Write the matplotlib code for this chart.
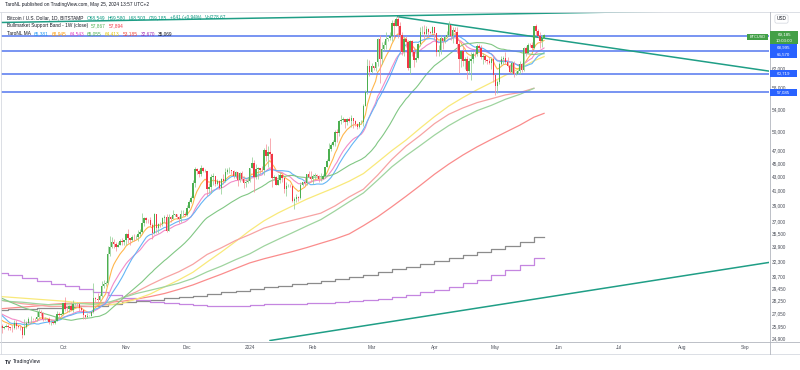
import numpy as np
import pandas as pd
import matplotlib
matplotlib.use("Agg")
import matplotlib.pyplot as plt
import matplotlib.dates as mdates
from matplotlib.lines import Line2D
from matplotlib.patches import Rectangle

plt.rcParams['font.family'] = ['Liberation Sans', 'DejaVu Sans']

W, H = 800, 370
FS = 3.4

# daily closes (thousand USD) before the visible range, used only to warm up the MAs
pre_start = '2023-07-13'
pre_close = [31.47, 30.32, 30.30, 30.25, 30.14, 29.86, 29.91, 29.80, 29.91, 29.80, 30.09, 29.18, 29.23,
             29.35, 29.21, 29.32, 29.36, 29.28, 29.23,
             29.70, 29.18, 29.19, 29.10, 29.05, 29.05, 29.18, 29.77, 29.57, 29.43, 29.40, 29.42, 29.30,
             29.42, 29.18, 28.70, 26.62, 26.05, 26.10, 26.19, 26.12, 26.04, 26.43, 26.16, 26.05, 26.01,
             26.09, 26.10, 27.73, 27.30, 25.94]

# BTCUSD daily candles, thousand USD, from 2023-09-01
start = '2023-09-01'
first_open = 25.94
close = [
    25.80, 25.87, 25.97, 25.82, 25.78, 25.75, 26.24, 25.90, 25.89, 25.84, 25.16, 25.84, 26.22, 26.53, 26.60,
    26.57, 26.53, 26.76, 27.21, 27.13, 26.57, 26.58, 26.58, 26.25, 26.30, 26.22, 26.37, 27.02, 26.91, 26.97,
    27.99, 27.50, 27.43, 27.79, 27.42, 27.95, 27.97, 27.94, 27.59, 27.39, 26.88, 26.76, 26.86, 26.86, 27.16,
    28.52, 28.42, 28.33, 28.72, 29.68, 29.92, 29.99, 33.09, 33.92, 34.50, 34.16, 33.91, 34.09, 34.54, 34.49, 34.65,
    35.44, 34.94, 34.73, 35.08, 35.04, 35.04, 35.42, 35.64, 36.70, 37.32, 37.14, 37.07, 36.49, 35.55, 37.88,
    36.16, 36.60, 36.59, 37.39, 37.48, 35.81, 37.43, 37.29, 37.72, 37.80, 37.48, 37.25, 37.83, 37.86, 37.72,
    38.69, 39.46, 39.98, 41.99, 44.09, 43.78, 43.29, 44.17, 43.72, 43.79, 41.24, 41.45, 42.89, 43.02, 41.94,
    42.26, 41.36, 42.65, 42.27, 43.66, 43.86, 43.99, 43.73, 43.01, 43.59, 42.51, 43.44, 42.58, 42.07, 42.14, 42.28,
    44.18, 44.95, 42.85, 44.15, 44.16, 43.97, 43.93, 46.97, 46.12, 46.63, 46.34, 42.78, 42.84, 41.73, 42.51,
    43.15, 42.74, 41.26, 41.62, 41.67, 41.55, 39.51, 39.85, 40.08, 39.93, 41.81, 42.12, 42.03, 43.30, 42.94, 42.57,
    43.08, 43.18, 43.00, 42.58, 42.66, 43.09, 44.33, 45.29, 47.13, 47.75, 48.30, 49.95, 49.70, 51.80, 51.92,
    52.14, 51.65, 52.13, 51.78, 52.28, 51.85, 51.31, 50.74, 51.57, 51.73, 54.52, 57.09, 62.50, 61.20,
    62.43, 62.03, 63.15, 68.34, 63.80, 66.11, 66.94, 68.30, 68.50, 69.02, 72.12, 71.48, 73.10, 71.40, 69.40,
    65.33, 68.39, 67.61, 61.95, 67.85, 65.50, 63.78, 64.06, 67.23, 69.98, 69.99, 69.47, 70.78, 69.89, 69.65, 71.30,
    69.65, 65.46, 65.96, 68.51, 67.85, 68.90, 69.36, 71.63, 69.14, 70.59, 70.06, 67.20, 63.82, 65.74, 63.42,
    63.81, 61.28, 63.51, 63.82, 64.95, 64.94, 66.84, 66.41, 64.29, 64.50, 63.77, 63.46, 63.10, 63.86, 60.61,
    58.25, 59.12, 62.89, 63.89, 64.03, 63.16, 62.33, 61.19, 63.07, 60.79, 60.81, 61.45, 62.89, 61.55, 66.27,
    65.23, 67.05, 66.92, 66.27, 71.45, 70.14, 69.16, 67.94, 68.54, 69.185]
high = [
    26.13, 25.98, 26.12, 26.09, 25.87, 26.02, 26.43, 26.43, 25.94, 26.03, 25.88, 26.55, 26.38, 26.78, 26.85,
    26.67, 26.63, 27.41, 27.49, 27.38, 27.16, 26.73, 26.64, 26.74, 26.43, 26.39, 26.82, 27.31, 27.23, 27.09,
    28.05, 28.58, 27.67, 27.83, 28.12, 28.29, 28.02, 28.10, 27.99, 27.73, 27.48, 26.94, 27.10, 26.96, 27.29,
    30.00, 28.61, 28.98, 28.92, 30.20, 30.34, 30.21, 34.00, 35.20, 35.08, 34.82, 34.46, 34.48, 34.74, 34.88, 34.71,
    35.56, 35.98, 34.94, 35.29, 35.38, 35.27, 35.89, 35.98, 37.96, 37.52, 37.42, 37.24, 37.42, 36.75, 37.97,
    37.92, 36.71, 36.85, 37.53, 37.75, 37.87, 37.86, 37.66, 38.43, 37.90, 37.84, 37.59, 38.39, 38.44, 38.17,
    38.98, 39.70, 40.20, 42.42, 44.42, 44.30, 44.04, 44.70, 44.37, 44.03, 43.79, 42.08, 43.41, 43.42, 43.08,
    42.68, 42.42, 42.74, 43.39, 44.25, 44.28, 44.37, 43.99, 43.95, 43.77, 43.63, 43.67, 43.79, 43.11, 42.60, 42.90,
    44.19, 45.90, 45.50, 44.77, 44.32, 44.22, 44.50, 47.25, 47.90, 47.65, 48.97, 46.50, 43.25, 43.06, 43.30,
    43.56, 43.19, 42.90, 42.17, 41.86, 41.90, 41.65, 40.10, 40.50, 40.27, 42.20, 42.23, 42.84, 43.31, 43.85, 43.74,
    43.30, 43.48, 43.38, 43.12, 43.50, 43.40, 44.37, 45.60, 48.20, 48.16, 48.59, 50.33, 50.37, 52.04, 52.82,
    52.57, 52.20, 52.38, 52.49, 52.98, 52.37, 52.04, 51.52, 51.68, 51.96, 54.92, 57.50, 63.91, 63.68,
    63.11, 62.45, 63.23, 68.65, 69.20, 67.66, 67.97, 69.95, 68.63, 69.96, 72.85, 72.97, 73.65, 73.78, 72.37,
    70.00, 68.84, 68.95, 68.10, 68.05, 68.19, 66.61, 65.95, 67.50, 71.14, 71.50, 71.67, 71.55, 70.90, 70.30, 71.35,
    71.30, 69.65, 66.90, 69.28, 68.70, 69.00, 70.30, 72.75, 71.75, 71.20, 71.27, 71.23, 67.92, 65.80, 66.88,
    64.38, 64.50, 64.10, 65.50, 65.40, 65.68, 67.20, 67.20, 67.07, 65.28, 64.80, 63.90, 64.30, 64.20, 64.70,
    60.80, 59.60, 63.30, 64.50, 64.65, 65.50, 64.35, 62.90, 63.40, 63.45, 61.45, 61.80, 63.45, 63.10, 66.45,
    66.70, 67.40, 67.40, 67.70, 71.50, 71.95, 70.60, 70.05, 69.20, 69.58]
low = [
    25.33, 25.71, 25.82, 25.61, 25.57, 25.39, 25.64, 25.65, 25.81, 25.60, 24.90, 25.13, 25.76, 26.13, 26.23,
    26.48, 26.38, 26.38, 26.67, 26.83, 26.37, 26.48, 26.50, 26.14, 25.99, 26.09, 26.12, 26.34, 26.67, 26.89,
    26.95, 27.33, 27.17, 27.22, 27.37, 27.18, 27.86, 27.71, 27.27, 27.30, 26.57, 26.56, 26.69, 26.82, 26.81,
    27.11, 28.10, 28.15, 28.19, 28.60, 29.46, 29.68, 29.90, 32.86, 33.71, 33.77, 33.42, 33.89, 34.05, 34.09, 34.08,
    34.11, 34.38, 34.11, 34.58, 34.53, 34.76, 34.53, 35.12, 35.54, 36.34, 36.76, 36.72, 36.35, 34.80, 35.36,
    35.54, 35.51, 36.19, 36.38, 36.70, 35.63, 35.76, 36.87, 37.25, 37.60, 37.18, 36.76, 36.88, 37.63, 37.56,
    37.62, 38.65, 39.30, 39.97, 41.41, 43.34, 42.85, 43.09, 43.60, 43.59, 40.22, 40.70, 40.65, 41.70, 41.67,
    41.72, 41.24, 40.53, 41.84, 42.20, 43.32, 43.44, 43.32, 42.80, 42.79, 41.62, 42.12, 42.32, 41.30, 41.51, 41.99,
    42.20, 44.17, 40.75, 42.63, 42.58, 43.41, 43.60, 43.20, 45.25, 44.35, 45.64, 41.50, 42.46, 41.72, 41.70,
    42.05, 42.20, 40.68, 40.28, 41.45, 41.50, 39.43, 38.50, 39.47, 39.50, 39.83, 41.63, 41.62, 41.80, 42.70, 42.31,
    41.89, 42.56, 42.88, 42.25, 42.26, 42.57, 42.78, 44.33, 45.24, 46.80, 47.56, 47.71, 48.32, 49.31, 51.33,
    51.60, 50.65, 51.20, 51.71, 50.81, 50.63, 50.96, 50.52, 50.59, 51.32, 50.91, 54.45, 56.75, 60.40,
    60.85, 61.60, 61.37, 62.39, 59.00, 62.79, 65.60, 66.02, 67.95, 68.14, 67.96, 68.65, 71.34, 68.58, 65.60,
    64.80, 64.57, 66.60, 61.56, 60.78, 64.57, 62.27, 63.25, 63.82, 66.75, 69.50, 68.40, 68.95, 69.10, 69.53, 69.60,
    68.20, 64.55, 64.50, 65.06, 66.00, 67.45, 68.80, 69.05, 68.20, 67.50, 69.55, 65.10, 61.00, 62.30, 62.33,
    61.75, 59.80, 60.80, 59.60, 63.10, 64.30, 64.50, 65.85, 63.80, 62.80, 63.30, 62.80, 62.80, 61.80, 59.10,
    56.55, 56.95, 58.80, 62.60, 62.90, 62.75, 62.30, 60.88, 60.65, 60.20, 60.50, 60.65, 60.75, 61.15, 61.32,
    64.60, 65.10, 66.60, 65.85, 66.05, 69.20, 68.90, 66.30, 66.60, 68.50]

# weekly indicator values (thousand USD), one per week starting Monday 2023-08-28
week_start = '2023-08-28'
bmsb_sma = [28.41, 28.19, 28.11, 27.97, 27.86, 27.92, 27.98, 27.93, 28.07, 28.51, 28.94, 29.27, 29.61,
            29.97, 30.46, 31.15, 31.75, 32.45, 33.10, 33.98, 34.76, 35.54, 36.35, 37.15, 38.26, 39.46,
            40.65, 42.45, 44.40, 46.10, 47.71, 49.42, 51.02, 52.43, 53.68, 54.64, 55.78, 56.70, 57.867]
bmsb_ema = [28.40, 28.18, 27.97, 27.84, 27.70, 27.73, 27.75, 27.70, 27.91, 28.51, 29.10, 29.83, 30.52,
            31.15, 31.95, 33.03, 33.78, 34.62, 35.32, 36.10, 36.61, 37.06, 37.51, 37.97, 38.91, 40.11,
            41.17, 43.17, 45.52, 47.60, 49.38, 51.37, 53.01, 54.17, 55.15, 55.87, 56.61, 57.05, 57.894]
ma_gray = [27.40, 27.45, 27.50, 27.55, 27.60, 27.70, 27.75, 27.80, 27.95, 28.10, 28.20, 28.35, 28.50,
           28.60, 28.75, 28.90, 29.05, 29.20, 29.35, 29.55, 29.70, 29.85, 30.00, 30.20, 30.40, 30.60,
           30.85, 31.10, 31.40, 31.70, 32.00, 32.30, 32.60, 32.95, 33.30, 33.65, 34.00, 34.50, 35.069]
ma_purple = [31.00, 30.80, 30.50, 30.20, 29.90, 29.70, 29.40, 29.10, 28.80, 28.50, 28.30, 28.10, 28.00,
             27.90, 27.85, 27.80, 27.80, 27.80, 27.85, 27.90, 27.90, 27.95, 28.00, 28.05, 28.10, 28.20,
             28.30, 28.45, 28.65, 28.85, 29.05, 29.30, 29.60, 29.95, 30.35, 30.80, 31.30, 31.90, 32.670]
# slow daily MAs read at each Monday plus the last bar (2024-05-25)
ma_yellow = [28.70, 28.60, 28.50, 28.40, 28.30, 28.20, 28.05, 27.90, 27.85, 28.00, 28.40, 28.90, 29.60,
             30.30, 31.10, 32.20, 33.30, 34.50, 35.80, 37.00, 38.00, 38.90, 39.80, 40.60, 41.40, 42.30,
             43.40, 45.10, 46.90, 48.60, 50.60, 52.60, 54.50, 56.10, 57.60, 59.00, 60.50, 61.90, 63.50, 64.413]
ma_red = [27.45, 27.55, 27.65, 27.75, 27.90, 28.00, 28.05, 28.05, 28.10, 28.20, 28.40, 28.65, 28.95,
          29.35, 29.80, 30.35, 30.90, 31.50, 32.10, 32.55, 32.95, 33.35, 33.80, 34.30, 34.80, 35.40,
          36.40, 37.50, 38.80, 40.20, 41.70, 43.30, 44.80, 46.20, 47.50, 48.70, 49.90, 51.10, 52.50, 53.185]

# drawn levels and trend lines (date, thousand USD)
levels = [68.995, 65.570, 60.719, 57.085]
trend_lines = [
    (('2023-08-31', 72.28), ('2024-09-20', 75.60)),
    (('2024-03-14', 73.70), ('2024-09-20', 60.90)),
    (('2024-01-11', 24.70), ('2024-09-20', 32.40)),
]

price_ticks = [62000, 58000, 54000, 50000, 47000, 45000, 43000, 41000, 39000, 37000,
               35500, 33900, 32300, 30700, 29450, 28250, 27050, 25950, 24900]
month_ticks = ['2023-10-01', '2023-11-01', '2023-12-01', '2024-01-01', '2024-02-01', '2024-03-01',
               '2024-04-01', '2024-05-01', '2024-06-01', '2024-07-01', '2024-08-01', '2024-09-01']
month_labels = ['Oct', 'Nov', 'Dec', '2024', 'Feb', 'Mar', 'Apr', 'May', 'Jun', 'Jul', 'Aug', 'Sep']

UP, DN = '#4caf50', '#f23645'
TEAL = '#1f9e86'
LEVEL = '#5d7ef0'


def fx(x):
    return x / W


def fy(y):
    return 1 - y / H


def hline(x0, x1, y, color='#d6d9e0', lw=0.6):
    fig.add_artist(Line2D([fx(x0), fx(x1)], [fy(y), fy(y)], color=color, lw=lw))


def vline(x, y0, y1, color='#d6d9e0', lw=0.6):
    fig.add_artist(Line2D([fx(x), fx(x)], [fy(y0), fy(y1)], color=color, lw=lw))


def tag(x0, x1, y0, y1, color, lines, fs=FS):
    fig.add_artist(Rectangle((fx(x0), fy(y1)), fx(x1 - x0), (y1 - y0) / H, color=color, lw=0,
                             transform=fig.transFigure, zorder=5))
    step = (y1 - y0) / len(lines)
    for i, s in enumerate(lines):
        fig.text(fx((x0 + x1) / 2), fy(y0 + step * (i + 0.5)), s, color='white', fontsize=fs,
                 ha='center', va='center', zorder=6)


def text_row(y, parts, x=7, gap=3.0):
    r = fig.canvas.get_renderer()
    for s, col in parts:
        t = fig.text(fx(x), fy(y), s, color=col, fontsize=FS, ha='left', va='center')
        x += t.get_window_extent(r).width + gap


fig = plt.figure(figsize=(W / 100, H / 100), dpi=100)
ax = fig.add_axes([fx(1), fy(341), fx(768), 329 / H])

dates = pd.date_range(start, periods=len(close), freq='D')
d = mdates.date2num(dates)
c = np.array(close) * 1000
o = np.r_[first_open, close[:-1]] * 1000
hi = np.maximum(np.array(high) * 1000, np.maximum(o, c))
lo = np.minimum(np.array(low) * 1000, np.minimum(o, c))
up = c >= o

# moving averages of the daily closes
all_dates = pd.date_range(pre_start, periods=len(pre_close) + len(close), freq='D')
s = pd.Series(np.r_[pre_close, close] * 1000, index=all_dates)
fast = {
    '#ffb74d': s.ewm(span=9, adjust=False).mean(),
    '#f28cc8': s.ewm(span=21, adjust=False).mean(),
    '#64b5f6': s.rolling(20).mean(),
    '#81c784': s.rolling(50).mean(),
}

weeks = pd.date_range(week_start, periods=len(bmsb_sma), freq='7D')
slow_dates = weeks.append(pd.DatetimeIndex([dates[-1]]))

ax.step(slow_dates, np.r_[ma_gray, ma_gray[-1]] * 1000, where='post', color='#8c8c8c', lw=0.9)
ax.step(slow_dates, np.r_[ma_purple, ma_purple[-1]] * 1000, where='post', color='#c586e0', lw=0.9)
ax.plot(slow_dates, np.array(ma_red) * 1000, color='#fa8c8c', lw=0.9)
ax.plot(slow_dates, np.array(ma_yellow) * 1000, color='#f9e97a', lw=0.9)
ax.plot(weeks, np.array(bmsb_ema) * 1000, color='#f7a3a3', lw=0.9)
ax.plot(weeks, np.array(bmsb_sma) * 1000, color='#9fd49f', lw=0.9)
for col, ser in fast.items():
    ser = ser[start:]
    ax.plot(ser.index, ser.values, color=col, lw=0.8)

for lv in levels:
    ax.axhline(lv * 1000, color=LEVEL, lw=1.3, alpha=0.9, zorder=3)
for (d0, p0), (d1, p1) in trend_lines:
    ax.plot(pd.to_datetime([d0, d1]), [p0 * 1000, p1 * 1000], color=TEAL, lw=1.1, zorder=3)

ax.vlines(d, lo, hi, colors=np.where(up, '#93d096', '#f7949c'), lw=0.55, zorder=4)
ax.bar(d, np.abs(c - o), bottom=np.minimum(o, c), width=0.72, color=np.where(up, UP, DN),
       lw=0, zorder=4)

oct1 = mdates.date2num(pd.Timestamp('2023-10-01'))
ax.set_xlim(oct1 - 62 / 2.0298, oct1 + 706 / 2.0298)
ax.set_yscale('log')
ax.set_ylim(24660, 74890)
ax.yaxis.set_minor_locator(matplotlib.ticker.NullLocator())
ax.yaxis.tick_right()
ax.set_yticks(price_ticks)
ax.set_yticklabels([f'{v:,}' for v in price_ticks])
ax.set_xticks(mdates.date2num(pd.to_datetime(month_ticks)))
ax.set_xticklabels(month_labels)
ax.tick_params(axis='both', length=0, labelsize=FS, colors='#4a4e59')
ax.tick_params(axis='y', pad=2.2)
ax.tick_params(axis='x', pad=3.2)
for sp in ax.spines.values():
    sp.set_visible(False)
ax.set_facecolor('white')

# pane frame
hline(0, W, 11.5)
hline(0, W, 341.5, color='#b2b5be')
hline(0, W, 353.5)
vline(769.5, 11.5, 353.5, color='#b2b5be')
vline(0.5, 11.5, 353.5)

fig.text(fx(5), fy(4.5), 'TaroNL published on TradingView.com, May 25, 2024 13:57 UTC+2',
         fontsize=FS, color='#131722', va='center')
text_row(17.5, [('Bitcoin / U.S. Dollar, 1D, BITSTAMP', '#131722'), ('O68,549', '#089981'),
                ('H69,580', '#089981'), ('L68,503', '#089981'), ('C69,185', '#089981'),
                ('+641 (+0.94%)', '#089981'), ('Vol278.67', '#089981')])
text_row(25.5, [('Bullmarket Support Band - 1W (close)', '#131722'), ('57,867', '#4caf50'),
                ('57,894', '#f23645')])
text_row(33.5, [('TaroNL MA', '#131722'), ('65,381', '#2196f3'), ('68,945', '#ff9800'),
                ('64,543', '#e040c0'), ('65,055', '#4caf50'), ('64,413', '#e6c700'),
                ('53,185', '#f44336'), ('32,670', '#9c27b0'), ('35,069', '#131722')])

fig.text(fx(781.5), fy(19), 'USD', fontsize=FS, color='#131722', ha='center', va='center',
         bbox=dict(boxstyle='round,pad=0.35', fc='white', ec='#d1d4dc', lw=0.5))
tag(770, 798, 31, 44, '#43a047', ['69,185', '10:03:00'], fs=3.2)
tag(747, 768, 33.5, 39.5, '#43a047', ['BTCUSD'], fs=2.8)
tag(770, 797, 44.5, 51, '#2962ff', ['68,995'], fs=3.2)
tag(770, 797, 51.5, 58, '#2962ff', ['65,570'], fs=3.2)
tag(770, 797, 70.5, 77, '#2962ff', ['60,719'], fs=3.2)
tag(770, 797, 89.5, 96, '#2962ff', ['57,085'], fs=3.2)

fig.text(fx(5), fy(362), 'TV', fontsize=3.8, weight='bold', color='#131722', va='center')
fig.text(fx(13), fy(362), 'TradingView', fontsize=3.6, color='#131722', va='center')

fig.savefig('out.png', dpi=100, facecolor='white')
